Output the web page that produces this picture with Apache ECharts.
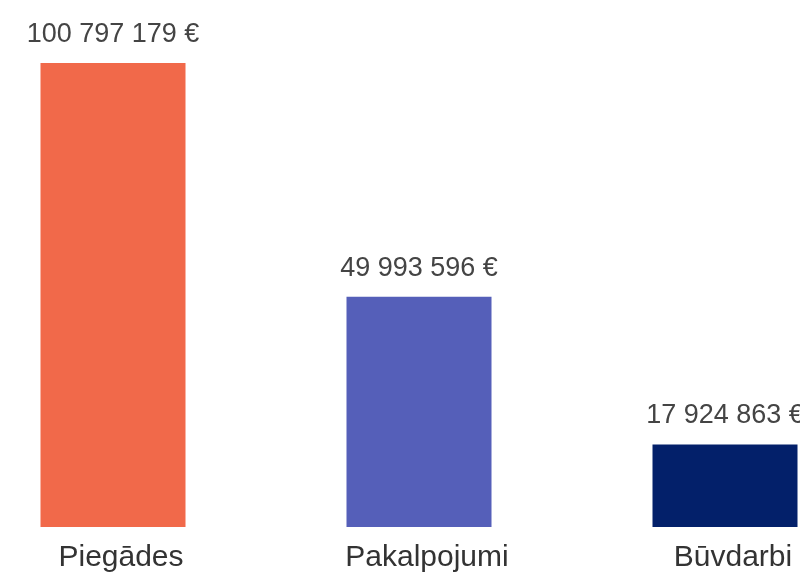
<!DOCTYPE html>
<html>
<head>
<meta charset="utf-8">
<style>
  html, body { margin: 0; padding: 0; background: #ffffff; overflow: hidden; width: 800px; height: 573px; }
  /* plotting surface is wider than the window so the outer bars sit near the edges */
  #chart { position: absolute; left: -40px; top: 0; width: 918px; height: 573px; }
</style>
<script src="https://cdn.jsdelivr.net/npm/echarts@6/dist/echarts.min.js"></script>
</head>
<body>
<div id="chart"></div>
<script>
// Procurement totals by contract type (EUR)
const categories = ['Piegādes', 'Pakalpojumi', 'Būvdarbi'];
const amounts = [100797179, 49993596, 17924863];
const barColors = ['#F1694A', '#555FB9', '#03206A'];

function formatEuro(v) {
  return String(v).replace(/\B(?=(\d{3})+(?!\d))/g, ' ') + ' €';
}

const chart = echarts.init(document.getElementById('chart'), null, { renderer: 'canvas' });

chart.setOption({
  animation: false,
  backgroundColor: '#ffffff',
  grid: { left: 0, right: 0, top: 63, bottom: 44, containLabel: false },
  xAxis: {
    type: 'category',
    data: categories,
    axisLine: { show: false },
    axisTick: { show: false },
    axisLabel: {
      margin: 16,
      padding: [0, 0, 0, 16],
      fontFamily: 'Liberation Sans, Arial, sans-serif',
      fontSize: 30,
      color: '#333333',
      interval: 0
    }
  },
  yAxis: {
    type: 'value',
    min: 0,
    max: amounts[0],
    show: false,
    splitLine: { show: false }
  },
  series: [{
    type: 'bar',
    barWidth: 145,
    data: amounts.map((v, i) => ({ value: v, itemStyle: { color: barColors[i] } })),
    label: {
      show: true,
      position: 'top',
      distance: 15,
      fontFamily: 'Liberation Sans, Arial, sans-serif',
      fontSize: 27,
      color: '#444444',
      formatter: p => formatEuro(p.value)
    }
  }]
});
</script>
</body>
</html>
